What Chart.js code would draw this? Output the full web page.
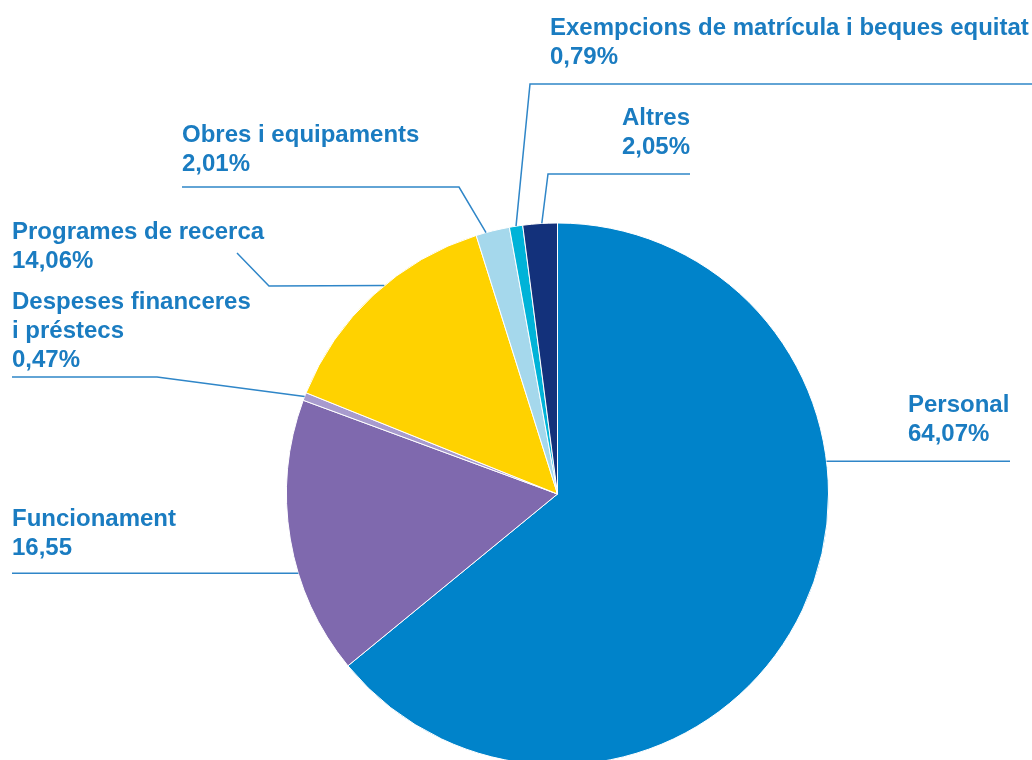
<!DOCTYPE html>
<html>
<head>
<meta charset="utf-8">
<script src="https://cdn.jsdelivr.net/npm/chart.js@4.4.1/dist/chart.umd.min.js"></script>
<style>
    html, body { margin: 0; padding: 0; background: #fff; overflow: hidden; }
    #wrap { position: absolute; left: 0; top: 0; width: 1032px; height: 800px; }
</style>
</head>
<body>
<div id="wrap"><canvas id="pie"></canvas></div>
<script>
// dades del pressupost (percentatges)
const categories = [
    'Personal',
    'Funcionament',
    'Despeses financeres\ni préstecs',
    'Programes de recerca',
    'Obres i equipaments',
    'Exempcions de matrícula i beques equitat',
    'Altres'
];
const values = [64.07, 16.55, 0.47, 14.06, 2.01, 0.79, 2.05];
const valueSuffix = ['%', '', '%', '%', '%', '%', '%'];
const colors = ['#0083ca', '#7f69ae', '#a89bce', '#ffd200', '#a5d8ec', '#00b3d8', '#13317b'];

// posició de les etiquetes i línies guia
// t: punt de l'arc on surt la línia (fracció del sector)
const labelLayout = [
    { t: 0.36,  path: [[1010, null]],            x: 908, y: 412 },
    { t: 0.375, path: [[12, null]],              x: 12,  y: 526 },
    { t: 0.5,   path: [[157, 377], [12, 377]],   x: 12,  y: 309 },
    { t: 0.56,  path: [[269, 286], [237, 253]],  x: 12,  y: 239 },
    { t: 0.3,   path: [[459, 187], [182, 187]],  x: 182, y: 142 },
    { t: 0.5,   path: [[530, 84], [1032, 84]],   x: 550, y: 35 },
    { t: 0.55,  path: [[548, 174], [690, 174]],  x: 622, y: 125 }
];

const fmt = (v, i) => v.toFixed(2).replace('.', ',') + valueSuffix[i];

const leaderLabels = {
    id: 'leaderLabels',
    afterDraw(chart) {
        const ctx = chart.ctx;
        const meta = chart.getDatasetMeta(0);
        ctx.save();
        meta.data.forEach((arc, i) => {
            const p = arc.getProps(['x', 'y', 'startAngle', 'endAngle', 'outerRadius'], true);
            const lay = labelLayout[i];
            const a = p.startAngle + lay.t * (p.endAngle - p.startAngle);
            const ax = p.x + p.outerRadius * Math.cos(a);
            const ay = p.y + p.outerRadius * Math.sin(a);

            // línia guia
            ctx.strokeStyle = '#2f86c8';
            ctx.lineWidth = 1.5;
            ctx.beginPath();
            ctx.moveTo(ax, ay);
            lay.path.forEach(pt => ctx.lineTo(pt[0], pt[1] === null ? ay : pt[1]));
            ctx.stroke();

            // text
            const lines = categories[i].split('\n').concat([fmt(values[i], i)]);
            ctx.fillStyle = '#1a7cc1';
            ctx.font = 'bold 24px "Liberation Sans", Arial, sans-serif';
            ctx.textAlign = 'left';
            ctx.textBaseline = 'alphabetic';
            lines.forEach((ln, k) => ctx.fillText(ln, lay.x, lay.y + k * 29));
        });
        ctx.restore();
    }
};

new Chart(document.getElementById('pie'), {
    type: 'pie',
    data: {
        labels: categories,
        datasets: [{
            data: values,
            backgroundColor: colors,
            borderColor: '#ffffff',
            borderWidth: 1
        }]
    },
    options: {
        responsive: true,
        maintainAspectRatio: false,
        animation: false,
        layout: {
            padding: { top: 222.5, bottom: 34.5, left: 286, right: 203 }
        },
        plugins: {
            legend: { display: false },
            tooltip: { enabled: false }
        }
    },
    plugins: [leaderLabels]
});
</script>
</body>
</html>
